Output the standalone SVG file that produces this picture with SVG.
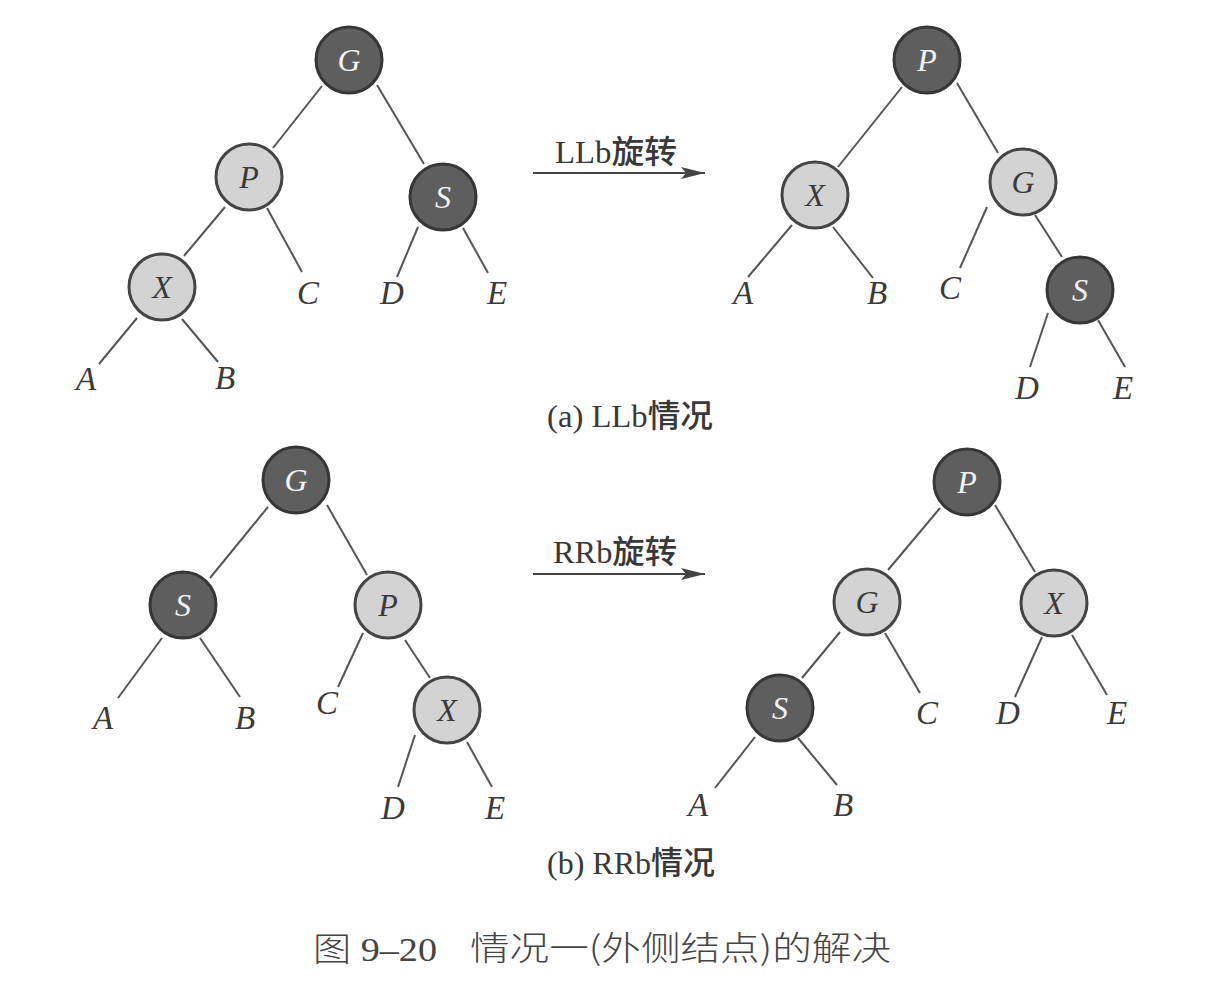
<svg xmlns="http://www.w3.org/2000/svg" width="1221" height="984" viewBox="0 0 1221 984">
<defs>
<style>
.bg{fill:#ffffff}
.dk{fill:#5e5e5e;stroke:#363636;stroke-width:3}
.lt{fill:#d3d3d3;stroke:#444444;stroke-width:3}
.tdk{font-family:"Liberation Serif","Times New Roman",serif;font-style:italic;font-size:32px;fill:#f2f2f2;text-anchor:middle}
.tlt{font-family:"Liberation Serif","Times New Roman",serif;font-style:italic;font-size:32px;fill:#3a3a3a;text-anchor:middle}
.leaf{font-family:"Liberation Serif","Times New Roman",serif;font-style:italic;font-size:33px;fill:#3a3a3a;text-anchor:middle}
.edge{stroke:#555555;stroke-width:2;fill:none}
.arr{stroke:#444444;stroke-width:2;fill:none}
.lab{font-family:"Liberation Serif","Times New Roman","Noto Sans CJK SC",serif;font-size:32px;fill:#383838}
.cap{font-family:"Liberation Serif","Times New Roman","Noto Sans CJK SC",serif;font-size:33px;fill:#444444}
.cjk{font-family:"Noto Sans CJK SC",sans-serif}
</style>
<marker id="ah" viewBox="0 0 24 12" refX="24" refY="6" markerWidth="24" markerHeight="12" markerUnits="userSpaceOnUse" orient="auto">
<path d="M0,0 L24,6 L0,12 L5,6 Z" fill="#444444"/>
</marker>
</defs>
<rect class="bg" x="0" y="0" width="1221" height="984"/>

<g id="connectors">
<line class="edge" x1="322" y1="86" x2="273" y2="148"/>
<line class="edge" x1="377" y1="85" x2="424" y2="164"/>
<line class="edge" x1="225" y1="207" x2="184" y2="256"/>
<line class="edge" x1="267" y1="208" x2="302" y2="272"/>
<line class="edge" x1="418" y1="227" x2="397" y2="277"/>
<line class="edge" x1="463" y1="228" x2="488" y2="273"/>
<line class="edge" x1="137" y1="318" x2="99" y2="364"/>
<line class="edge" x1="182" y1="319" x2="218" y2="362"/>
<line class="edge" x1="902" y1="87" x2="838" y2="167"/>
<line class="edge" x1="957" y1="83" x2="998" y2="153"/>
<line class="edge" x1="792" y1="225" x2="748" y2="277"/>
<line class="edge" x1="833" y1="227" x2="873" y2="278"/>
<line class="edge" x1="987" y1="207" x2="960" y2="268"/>
<line class="edge" x1="1035" y1="215" x2="1062" y2="257"/>
<line class="edge" x1="1048" y1="313" x2="1030" y2="367"/>
<line class="edge" x1="1098" y1="320" x2="1125" y2="367"/>
<line class="edge" x1="268" y1="507" x2="210" y2="578"/>
<line class="edge" x1="327" y1="505" x2="367" y2="575"/>
<line class="edge" x1="162" y1="638" x2="118" y2="698"/>
<line class="edge" x1="200" y1="638" x2="240" y2="697"/>
<line class="edge" x1="363" y1="633" x2="338" y2="687"/>
<line class="edge" x1="405" y1="640" x2="430" y2="678"/>
<line class="edge" x1="415" y1="735" x2="398" y2="787"/>
<line class="edge" x1="467" y1="742" x2="492" y2="787"/>
<line class="edge" x1="940" y1="508" x2="888" y2="570"/>
<line class="edge" x1="995" y1="505" x2="1035" y2="572"/>
<line class="edge" x1="840" y1="632" x2="802" y2="678"/>
<line class="edge" x1="885" y1="633" x2="920" y2="693"/>
<line class="edge" x1="1042" y1="637" x2="1015" y2="697"/>
<line class="edge" x1="1072" y1="635" x2="1107" y2="695"/>
<line class="edge" x1="755" y1="737" x2="715" y2="788"/>
<line class="edge" x1="798" y1="738" x2="837" y2="785"/>
<line class="arr" x1="533" y1="173" x2="705" y2="173" marker-end="url(#ah)"/>
<line class="arr" x1="533" y1="574" x2="705" y2="574" marker-end="url(#ah)"/>
</g>

<g id="a-left-G"><circle class="dk" cx="349" cy="60" r="33"/><text class="tdk" x="349" y="71">G</text></g>
<g id="a-left-P"><circle class="lt" cx="249" cy="177" r="33"/><text class="tlt" x="249" y="188">P</text></g>
<g id="a-left-S"><circle class="dk" cx="443" cy="197" r="33"/><text class="tdk" x="443" y="208">S</text></g>
<g id="a-left-X"><circle class="lt" cx="162" cy="287" r="33"/><text class="tlt" x="162" y="298">X</text></g>
<g id="a-left-leaves">
<text class="leaf" x="308" y="304">C</text>
<text class="leaf" x="392" y="304">D</text>
<text class="leaf" x="497" y="304">E</text>
<text class="leaf" x="86" y="390">A</text>
<text class="leaf" x="225" y="389">B</text>
</g>

<g id="a-right-P"><circle class="dk" cx="927" cy="60" r="33"/><text class="tdk" x="927" y="71">P</text></g>
<g id="a-right-X"><circle class="lt" cx="815" cy="195" r="33"/><text class="tlt" x="815" y="206">X</text></g>
<g id="a-right-G"><circle class="lt" cx="1023" cy="182" r="33"/><text class="tlt" x="1023" y="193">G</text></g>
<g id="a-right-S"><circle class="dk" cx="1080" cy="290" r="33"/><text class="tdk" x="1080" y="301">S</text></g>
<g id="a-right-leaves">
<text class="leaf" x="743" y="304">A</text>
<text class="leaf" x="877" y="304">B</text>
<text class="leaf" x="950" y="299">C</text>
<text class="leaf" x="1027" y="399">D</text>
<text class="leaf" x="1123" y="399">E</text>
</g>

<g id="b-left-G"><circle class="dk" cx="296" cy="480" r="33"/><text class="tdk" x="296" y="491">G</text></g>
<g id="b-left-S"><circle class="dk" cx="183" cy="605" r="33"/><text class="tdk" x="183" y="616">S</text></g>
<g id="b-left-P"><circle class="lt" cx="388" cy="605" r="33"/><text class="tlt" x="388" y="616">P</text></g>
<g id="b-left-X"><circle class="lt" cx="447" cy="710" r="33"/><text class="tlt" x="447" y="721">X</text></g>
<g id="b-left-leaves">
<text class="leaf" x="103" y="729">A</text>
<text class="leaf" x="245" y="729">B</text>
<text class="leaf" x="327" y="714">C</text>
<text class="leaf" x="393" y="819">D</text>
<text class="leaf" x="495" y="819">E</text>
</g>

<g id="b-right-P"><circle class="dk" cx="967" cy="482" r="33"/><text class="tdk" x="967" y="493">P</text></g>
<g id="b-right-G"><circle class="lt" cx="867" cy="602" r="33"/><text class="tlt" x="867" y="613">G</text></g>
<g id="b-right-X"><circle class="lt" cx="1054" cy="603" r="33"/><text class="tlt" x="1054" y="614">X</text></g>
<g id="b-right-S"><circle class="dk" cx="780" cy="708" r="33"/><text class="tdk" x="780" y="719">S</text></g>
<g id="b-right-leaves">
<text class="leaf" x="927" y="724">C</text>
<text class="leaf" x="1008" y="724">D</text>
<text class="leaf" x="1117" y="724">E</text>
<text class="leaf" x="698" y="816">A</text>
<text class="leaf" x="843" y="816">B</text>
</g>

<g id="labels">
<text class="lab" x="555" y="163" textLength="122" lengthAdjust="spacingAndGlyphs">LLb<tspan class="cjk" font-weight="500">旋转</tspan></text>
<text class="lab" x="553" y="563" textLength="124" lengthAdjust="spacingAndGlyphs">RRb<tspan class="cjk" font-weight="500">旋转</tspan></text>
<text class="lab" x="547" y="427" textLength="166" lengthAdjust="spacingAndGlyphs">(a) LLb<tspan class="cjk" font-weight="500">情况</tspan></text>
<text class="lab" x="547" y="874" textLength="168" lengthAdjust="spacingAndGlyphs">(b) RRb<tspan class="cjk" font-weight="500">情况</tspan></text>
<text class="cap" x="313" y="961" textLength="124" lengthAdjust="spacingAndGlyphs"><tspan class="cjk" font-weight="300">图</tspan> 9–20</text>
<text class="cap cjk" x="470" y="960" font-weight="300" textLength="421" lengthAdjust="spacingAndGlyphs">情况一(外侧结点)的解决</text>
</g>
</svg>
